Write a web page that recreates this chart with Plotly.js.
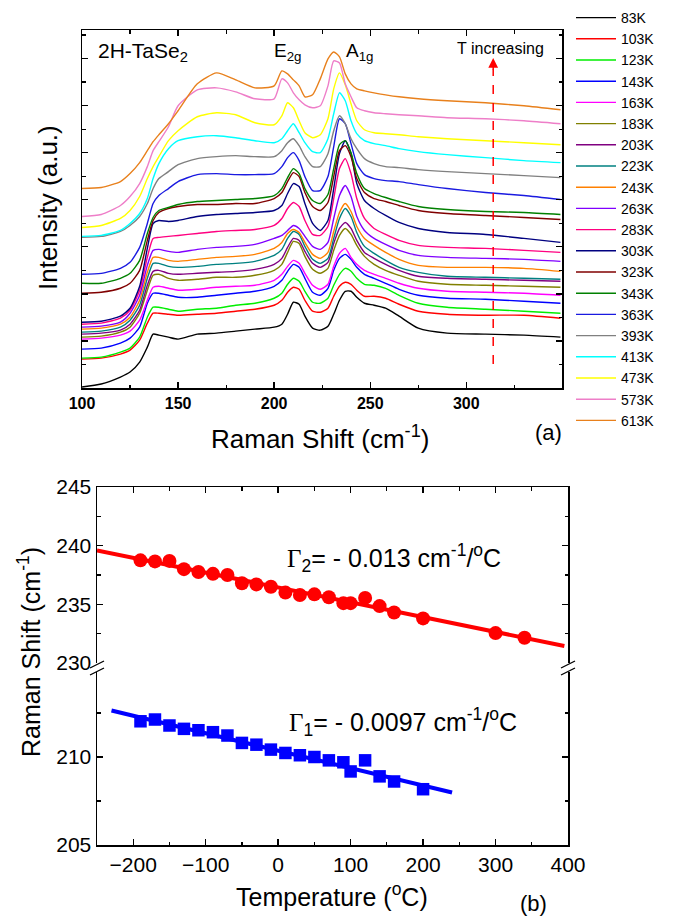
<!DOCTYPE html>
<html>
<head>
<meta charset="utf-8">
<script src="https://cdn.plot.ly/plotly-3.0.1.min.js"></script>
<style>html,body{margin:0;padding:0;background:#fff;}#chart{width:676px;height:919px;}</style>
</head>
<body>
<div id="chart"></div>
<script>
// ---------- Panel (a): Raman spectra (intensity in a.u., stacked) ----------
const ramanShift = [100,110,120,125,130,134,137,140,145,150,160,170,180,190,200,204,207,210,213,216,220,224,228,231,234,237,240,243,247,252,258,265,275,290,310,330,349];

const int83K  = [1,4,11,16,26,41,54,53,51,49,54,55,57,59,61,64,74,86,84,72,60,58,62,74,88,97,97,91,85,83,80,72,60,55,54,53,51];
const int103K = [29,30,34,38,48,65,75,75,74,73,74,75,77,79,83,88,96,101,99,88,77,76,80,92,102,106,104,98,92,92,90,84,77,74,73,73,70];
const int123K = [30,31,36,40,51,71,81,81,79,77,79,80,83,85,90,95,104,110,107,97,86,85,90,103,114,120,117,110,104,103,100,93,85,81,79,77,75];
const int143K = [39,40,45,50,61,85,95,95,93,91,91,93,95,97,102,108,117,124,121,110,96,93,100,118,130,134,129,121,114,110,105,99,93,90,89,87,85];
const int163K = [49,50,53,57,68,88,101,102,100,98,99,101,102,103,108,114,122,128,125,115,103,99,104,122,135,140,131,124,118,114,110,105,100,97,96,95,93];
const int183K = [51,52,56,61,75,98,113,114,110,108,109,111,111,113,118,124,136,147,145,132,119,115,120,138,153,160,154,143,132,124,118,113,107,104,103,102,101];
const int203K = [54,55,58,64,78,103,117,118,115,114,115,116,117,119,124,130,141,150,148,137,125,121,126,145,160,166,160,148,136,130,124,118,112,110,109,108,107];
const int223K = [56,57,61,68,83,110,125,125,122,121,122,124,125,127,133,139,150,157,154,142,129,125,130,150,170,180,172,156,142,135,128,121,116,112,111,110,109];
const int243K = [59,60,64,71,88,116,131,131,128,127,129,131,132,134,140,146,155,159,156,146,134,130,136,157,176,185,177,162,150,143,136,129,123,121,121,120,117];
const int263K = [61,62,66,75,93,123,138,139,137,136,139,141,142,144,150,153,158,163,160,152,142,139,146,170,193,203,192,172,158,150,144,138,133,131,130,129,127];
const int283K = [64,65,70,78,98,131,150,151,152,153,155,157,158,159,163,170,180,186,182,168,154,153,162,190,220,230,215,190,170,160,154,148,143,141,140,138,136];
const int303K = [66,67,72,80,102,140,165,168,167,168,172,174,175,176,178,183,195,205,202,185,165,158,168,200,235,248,235,205,188,180,173,166,160,156,154,150,146];
const int323K = [95,96,100,105,118,148,168,176,180,182,184,184,185,185,190,196,207,216,212,196,182,178,186,212,238,243,232,210,196,190,187,183,178,175,173,171,169];
const int343K = [105,105,110,115,128,155,171,178,181,184,187,188,189,190,193,200,211,220,215,200,188,185,194,220,244,248,236,215,200,195,191,187,182,179,177,176,174];
const int363K = [114,115,120,126,141,165,185,193,200,207,214,215,214,214,215,222,231,236,228,212,198,198,212,242,270,265,245,225,214,210,208,207,204,200,196,193,189];
const int393K = [151,152,157,163,172,185,200,210,217,224,230,232,233,232,232,238,246,250,243,232,222,222,235,258,273,265,250,240,230,225,222,221,219,217,215,213,211];
const int413K = [152,153,158,165,175,190,210,225,240,248,252,253,251,248,246,250,258,265,256,246,237,236,250,275,296,288,268,255,248,245,243,240,237,234,231,228,226];
const int473K = [161,163,170,178,192,210,222,232,248,258,272,276,274,266,264,273,286,281,268,256,251,254,270,300,316,304,285,268,259,256,255,254,252,250,248,246,244];
const int573K = [172,174,183,192,205,222,238,247,262,283,299,301,297,290,290,310,306,296,289,284,281,283,303,328,326,305,292,281,278,276,275,274,273,271,270,268,265];
const int613K = [200,201,207,215,226,238,247,254,265,278,305,316,309,301,303,318,315,309,303,292,294,310,330,337,332,315,305,300,298,296,294,292,290,288,286,283,279];

const seriesLabels = ['83K','103K','123K','143K','163K','183K','203K','223K','243K','263K','283K','303K','323K','343K','363K','393K','413K','473K','573K','613K'];
const seriesData = [int83K,int103K,int123K,int143K,int163K,int183K,int203K,int223K,int243K,int263K,int283K,int303K,int323K,int343K,int363K,int393K,int413K,int473K,int573K,int613K];
const seriesColors = ['#000000','#ff0000','#00ee00','#0000ff','#ff00ff','#808000','#800080','#008080','#ff8000','#8000ff','#ff0080','#000080','#800000','#008000','#1a1ae0','#808080','#00ffff','#ffff00','#ee7ec8','#e8801c'];

const arrowShift = 314; // position of the "T increasing" arrow (cm-1)

// ---------- Panel (b): peak positions vs temperature ----------
const tempA1g  = [-190,-170,-150,-130,-110,-90,-70,-50,-30,-10,10,30,50,70,90,100,120,140,160,200,300,340];
const shiftA1g = [238.75,238.66,238.7,238.0,237.76,237.6,237.5,236.8,236.7,236.5,236.0,235.8,235.85,235.6,235.1,235.1,235.55,234.85,234.3,233.8,232.55,232.15];
const tempE2g  = [-190,-170,-150,-130,-110,-90,-70,-50,-30,-10,10,30,50,70,90,100,120,140,160,200];
const shiftE2g = [212.03,212.13,211.79,211.6,211.52,211.41,211.22,210.8,210.7,210.42,210.23,210.1,210.0,209.81,209.7,209.18,209.81,208.9,208.61,208.17];
const fitA1gT = [-250, 395];
const fitA1gS = [239.6, 231.45];
const fitE2gT = [-230, 240];
const fitE2gS = [212.64, 207.98];

// ---------- layout helpers ----------
const W = 676, H = 919;
const px = v => v / W;
const py = v => 1 - v / H;
const FONT = 'Liberation Sans, Arial, Helvetica, sans-serif';

const traces = [];
seriesData.forEach((ys, i) => {
  traces.push({
    x: ramanShift, y: ys, name: seriesLabels[i], type: 'scatter', mode: 'lines',
    xaxis: 'x', yaxis: 'y',
    line: {color: seriesColors[i], width: 1.4, shape: 'spline', smoothing: 0.6}
  });
});
traces.push({x: fitA1gT, y: fitA1gS, xaxis: 'x2', yaxis: 'y3', mode: 'lines', showlegend: false,
  line: {color: '#ff0000', width: 4}, hoverinfo: 'skip'});
traces.push({x: tempA1g, y: shiftA1g, xaxis: 'x2', yaxis: 'y3', mode: 'markers', showlegend: false,
  marker: {symbol: 'circle', size: 14, color: '#ff0000'}});
traces.push({x: fitE2gT, y: fitE2gS, xaxis: 'x3', yaxis: 'y4', mode: 'lines', showlegend: false,
  line: {color: '#0000ff', width: 4}, hoverinfo: 'skip'});
traces.push({x: tempE2g, y: shiftE2g, xaxis: 'x3', yaxis: 'y4', mode: 'markers', showlegend: false,
  marker: {symbol: 'square', size: 12.5, color: '#0000ff'}});

const axBase = {showgrid: false, zeroline: false, showline: true, linecolor: '#000', linewidth: 1.5,
  ticks: 'inside', tickcolor: '#000', tickwidth: 1.3, ticklen: 6};
const minorTicks = d => ({dtick: d, ticklen: 3.5, tickwidth: 1.2, ticks: 'inside', tickcolor: '#000', showgrid: false});

const layout = {
  width: W, height: H, margin: {l: 0, r: 0, t: 0, b: 0},
  paper_bgcolor: '#fff', plot_bgcolor: 'rgba(0,0,0,0)',
  font: {family: FONT, color: '#000'},
  showlegend: true,
  legend: {x: px(571), y: py(2), xanchor: 'left', yanchor: 'top', font: {size: 14, family: FONT},
    bgcolor: 'rgba(0,0,0,0)', tracegroupgap: 0, traceorder: 'normal', itemwidth: 40},
  xaxis: Object.assign({}, axBase, {domain: [px(82), px(562)], range: [100, 349.8], anchor: 'y',
    mirror: 'ticks', tick0: 100, dtick: 50,
    tickfont: {size: 16, weight: 'bold', family: FONT}, minor: minorTicks(25)}),
  yaxis: Object.assign({}, axBase, {domain: [py(388), py(30)], range: [0, 359], anchor: 'x',
    mirror: 'ticks', tick0: 0, dtick: 47.2, showticklabels: false, minor: minorTicks(23.6)}),
  xaxis2: Object.assign({}, axBase, {domain: [px(97), px(568)], range: [-250, 400], anchor: 'y3',
    side: 'top', showticklabels: false, tick0: 0, dtick: 100, minor: minorTicks(50)}),
  xaxis3: Object.assign({}, axBase, {domain: [px(97), px(568)], range: [-250, 400], anchor: 'y4',
    side: 'bottom', tick0: 0, dtick: 100, tickfont: {size: 21, family: FONT}, minor: minorTicks(50)}),
  yaxis3: Object.assign({}, axBase, {domain: [py(663), py(487)], range: [230, 245], anchor: 'x2',
    mirror: 'ticks', tick0: 230, dtick: 5, tickfont: {size: 21, family: FONT}, minor: minorTicks(2.5)}),
  yaxis4: Object.assign({}, axBase, {domain: [py(845), py(672)], range: [205, 214.83], anchor: 'x3',
    mirror: 'ticks', tick0: 205, dtick: 5, tickfont: {size: 21, family: FONT}, minor: minorTicks(2.5)}),
  shapes: [
    {type: 'line', xref: 'x', yref: 'y', x0: arrowShift, x1: arrowShift, y0: 24, y1: 320,
      line: {color: '#ff0000', width: 1.5, dash: 'dash'}},
    // axis-break marks
    {type: 'line', xref: 'paper', yref: 'paper', x0: px(90), x1: px(104), y0: py(668), y1: py(661), line: {color: '#000', width: 1.3}},
    {type: 'line', xref: 'paper', yref: 'paper', x0: px(90), x1: px(104), y0: py(675), y1: py(668), line: {color: '#000', width: 1.3}},
    {type: 'line', xref: 'paper', yref: 'paper', x0: px(561), x1: px(575), y0: py(668), y1: py(661), line: {color: '#000', width: 1.3}},
    {type: 'line', xref: 'paper', yref: 'paper', x0: px(561), x1: px(575), y0: py(675), y1: py(668), line: {color: '#000', width: 1.3}}
  ],
  annotations: [
    {xref: 'x', yref: 'y', axref: 'x', ayref: 'y', x: arrowShift, y: 331, ax: arrowShift, ay: 318,
      text: '', showarrow: true, arrowhead: 2, arrowsize: 1.3, arrowwidth: 1.5, arrowcolor: '#ff0000'},
    {xref: 'paper', yref: 'paper', x: px(96), y: py(52), xanchor: 'left', yanchor: 'middle', showarrow: false,
      text: '2H-TaSe<sub>2</sub>', font: {size: 21}},
    {xref: 'paper', yref: 'paper', x: px(287), y: py(52), xanchor: 'center', yanchor: 'middle', showarrow: false,
      text: 'E<sub>2g</sub>', font: {size: 19}},
    {xref: 'paper', yref: 'paper', x: px(359), y: py(52), xanchor: 'center', yanchor: 'middle', showarrow: false,
      text: 'A<sub>1g</sub>', font: {size: 19}},
    {xref: 'paper', yref: 'paper', x: px(500), y: py(49), xanchor: 'center', yanchor: 'middle', showarrow: false,
      text: 'T increasing', font: {size: 16}},
    {xref: 'paper', yref: 'paper', x: px(320), y: py(437), xanchor: 'center', yanchor: 'middle', showarrow: false,
      text: 'Raman Shift (cm<sup>-1</sup>)', font: {size: 26}},
    {xref: 'paper', yref: 'paper', x: px(48), y: py(208), xanchor: 'center', yanchor: 'middle', showarrow: false,
      textangle: -90, text: 'Intensity (a.u.)', font: {size: 26}},
    {xref: 'paper', yref: 'paper', x: px(548), y: py(432), xanchor: 'center', yanchor: 'middle', showarrow: false,
      text: '(a)', font: {size: 22}},
    {xref: 'paper', yref: 'paper', x: px(332), y: py(895), xanchor: 'center', yanchor: 'middle', showarrow: false,
      text: 'Temperature (<sup>o</sup>C)', font: {size: 25}},
    {xref: 'paper', yref: 'paper', x: px(29), y: py(652), xanchor: 'center', yanchor: 'middle', showarrow: false,
      textangle: -90, text: 'Raman Shift (cm<sup>-1</sup>)', font: {size: 25}},
    {xref: 'paper', yref: 'paper', x: px(533), y: py(903), xanchor: 'center', yanchor: 'middle', showarrow: false,
      text: '(b)', font: {size: 22}},
    {xref: 'paper', yref: 'paper', x: px(285), y: py(558), xanchor: 'left', yanchor: 'middle', showarrow: false,
      text: '<span style="font-family:Liberation Serif, Times New Roman, serif">Γ</span><sub>2</sub>= - 0.013 cm<sup>-1</sup>/<sup>o</sup>C', font: {size: 25}},
    {xref: 'paper', yref: 'paper', x: px(287), y: py(722), xanchor: 'left', yanchor: 'middle', showarrow: false,
      text: '<span style="font-family:Liberation Serif, Times New Roman, serif">Γ</span><sub>1</sub>= - 0.0097 cm<sup>-1</sup>/<sup>o</sup>C', font: {size: 25}}
  ]
};

Plotly.newPlot('chart', traces, layout, {staticPlot: true, displayModeBar: false});
</script>
</body>
</html>
